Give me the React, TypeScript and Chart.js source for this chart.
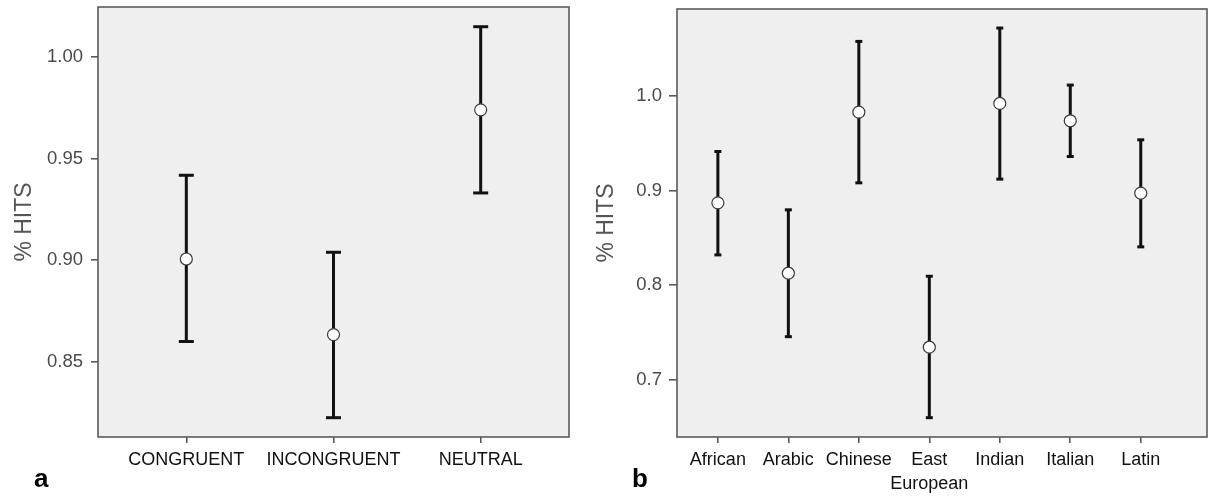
import React, { useEffect, useRef } from "react";
import { Chart, registerables } from "chart.js";

Chart.register(...registerables);

// ---- Panel a: congruence conditions ----
const congruenceCategories = ["CONGRUENT", "INCONGRUENT", "NEUTRAL"];
const congruenceMeans = [0.9006, 0.8634, 0.974];
const congruenceLower = [0.86, 0.8225, 0.9331];
const congruenceUpper = [0.9418, 0.9039, 1.0149];
const congruenceTicks = [0.85, 0.9, 0.95, 1.0];

// ---- Panel b: ethnicity of faces ----
const ethnicityCategories = ["African", "Arabic", "Chinese", "East European", "Indian", "Italian", "Latin"];
const ethnicityMeans = [0.887, 0.8127, 0.9828, 0.7346, 0.9919, 0.9736, 0.8972];
const ethnicityLower = [0.832, 0.7457, 0.9081, 0.6602, 0.912, 0.9359, 0.8405];
const ethnicityUpper = [0.9412, 0.8796, 1.0574, 0.8095, 1.0715, 1.0113, 0.9535];
const ethnicityTicks = [0.7, 0.8, 0.9, 1.0];

const FONT = "'Liberation Sans', Arial, Helvetica, sans-serif";

const framePlugin = {
  id: "frame",
  beforeDraw(chart: any) {
    const { ctx, chartArea } = chart;
    const { left, top, right, bottom } = chartArea;
    ctx.save();
    ctx.fillStyle = "#efefef";
    ctx.fillRect(left, top, right - left, bottom - top);
    ctx.restore();
  },
  afterDraw(chart: any) {
    const { ctx, chartArea } = chart;
    const { left, top, right, bottom } = chartArea;
    ctx.save();
    ctx.strokeStyle = "#5a5a5a";
    ctx.lineWidth = 1.6;
    ctx.strokeRect(left, top, right - left, bottom - top);
    ctx.restore();
  },
};

type PanelProps = {
  left: number;
  width: number;
  height: number;
  categories: string[];
  means: number[];
  lower: number[];
  upper: number[];
  yTicks: number[];
  yMin: number;
  yMax: number;
  xMin: number;
  xMax: number;
  decimals: number;
  yAxisWidth: number;
  padTop: number;
  padRight: number;
  titlePad: number;
  capRadius: number;
  yTickLength: number;
  yTickPadding: number;
};

function Panel(p: PanelProps) {
  const ref = useRef<HTMLCanvasElement | null>(null);
  useEffect(() => {
    if (!ref.current) return;
    const meanData = p.means.map((v, i) => ({ x: i, y: v }));
    const errData: any[] = [];
    p.categories.forEach((_, i) => {
      errData.push({ x: i, y: p.lower[i] });
      errData.push({ x: i, y: p.upper[i] });
      errData.push({ x: i, y: null });
    });
    const chart = new Chart(ref.current, {
      type: "scatter",
      data: {
        datasets: [
          {
            data: meanData,
            pointRadius: 6,
            pointBackgroundColor: "#ffffff",
            pointBorderColor: "#3a3a3a",
            pointBorderWidth: 1.2,
            showLine: false,
          },
          {
            data: errData,
            showLine: true,
            spanGaps: false,
            borderColor: "#111111",
            borderWidth: 3,
            pointStyle: "line",
            pointRadius: p.capRadius,
            pointBorderColor: "#111111",
            pointBorderWidth: 3,
            pointBackgroundColor: "#111111",
          } as any,
        ],
      },
      options: {
        responsive: false,
        animation: false,
        events: [],
        layout: { autoPadding: false, padding: { top: p.padTop, right: p.padRight, left: 0, bottom: 0 } },
        plugins: { legend: { display: false }, tooltip: { enabled: false } },
        scales: {
          x: {
            type: "linear",
            min: p.xMin,
            max: p.xMax,
            afterBuildTicks: (s: any) => {
              s.ticks = p.categories.map((_, i) => ({ value: i }));
            },
            afterFit: (s: any) => {
              s.height = 60;
              s.paddingLeft = 0;
              s.paddingRight = 0;
            },
            border: { display: false },
            grid: {
              drawOnChartArea: false,
              drawTicks: true,
              tickLength: 6,
              color: "#5a5a5a",
              lineWidth: 1.6,
            },
            ticks: {
              autoSkip: false,
              maxRotation: 0,
              minRotation: 0,
              padding: 6,
              color: "#111111",
              font: { family: FONT, size: 18, lineHeight: 1.28 },
              callback: (v: any) => {
                const label = p.categories[Math.round(Number(v))];
                return label && label.includes(" ") ? label.split(" ") : label;
              },
            },
          },
          y: {
            type: "linear",
            min: p.yMin,
            max: p.yMax,
            afterBuildTicks: (s: any) => {
              s.ticks = p.yTicks.map((v) => ({ value: v }));
            },
            afterFit: (s: any) => {
              s.width = p.yAxisWidth;
              s.paddingTop = 0;
              s.paddingBottom = 0;
            },
            border: { display: false },
            grid: {
              drawOnChartArea: false,
              drawTicks: true,
              tickLength: p.yTickLength,
              color: "#5a5a5a",
              lineWidth: 1.6,
            },
            ticks: {
              padding: p.yTickPadding,
              color: "#4a4a4a",
              font: { family: FONT, size: 18.5 },
              callback: (v: any) => Number(v).toFixed(p.decimals),
            },
            title: {
              display: true,
              text: "% HITS",
              color: "#555555",
              font: { family: FONT, size: 23 },
              padding: { top: p.titlePad, bottom: 0 },
            },
          },
        },
      },
      plugins: [framePlugin],
    } as any);
    return () => chart.destroy();
  }, []);
  return (
    <canvas
      ref={ref}
      width={p.width}
      height={p.height}
      style={{ position: "absolute", left: p.left, top: 0, width: p.width, height: p.height }}
    />
  );
}

const letterStyle: React.CSSProperties = {
  position: "absolute",
  top: 465,
  fontFamily: FONT,
  fontWeight: "bold",
  fontSize: 26,
  lineHeight: "26px",
  color: "#000",
};

export default function App() {
  return (
    <div style={{ position: "absolute", left: 0, top: 0, width: 1208, height: 497, background: "#fff", overflow: "hidden" }}>
      <Panel
        left={0}
        width={585}
        height={497}
        categories={congruenceCategories}
        means={congruenceMeans}
        lower={congruenceLower}
        upper={congruenceUpper}
        yTicks={congruenceTicks}
        yMin={0.813}
        yMax={1.0246}
        xMin={-0.6}
        xMax={2.6}
        decimals={2}
        yAxisWidth={98}
        padTop={7}
        padRight={16}
        titlePad={11}
        capRadius={7.5}
        yTickLength={7}
        yTickPadding={8}
      />
      <Panel
        left={585}
        width={623}
        height={497}
        categories={ethnicityCategories}
        means={ethnicityMeans}
        lower={ethnicityLower}
        upper={ethnicityUpper}
        yTicks={ethnicityTicks}
        yMin={0.6398}
        yMax={1.0916}
        xMin={-0.58}
        xMax={6.94}
        decimals={1}
        yAxisWidth={92}
        padTop={9}
        padRight={1}
        titlePad={8}
        capRadius={3.5}
        yTickLength={8}
        yTickPadding={7}
      />
      <div style={{ ...letterStyle, left: 34 }}>a</div>
      <div style={{ ...letterStyle, left: 632 }}>b</div>
    </div>
  );
}
